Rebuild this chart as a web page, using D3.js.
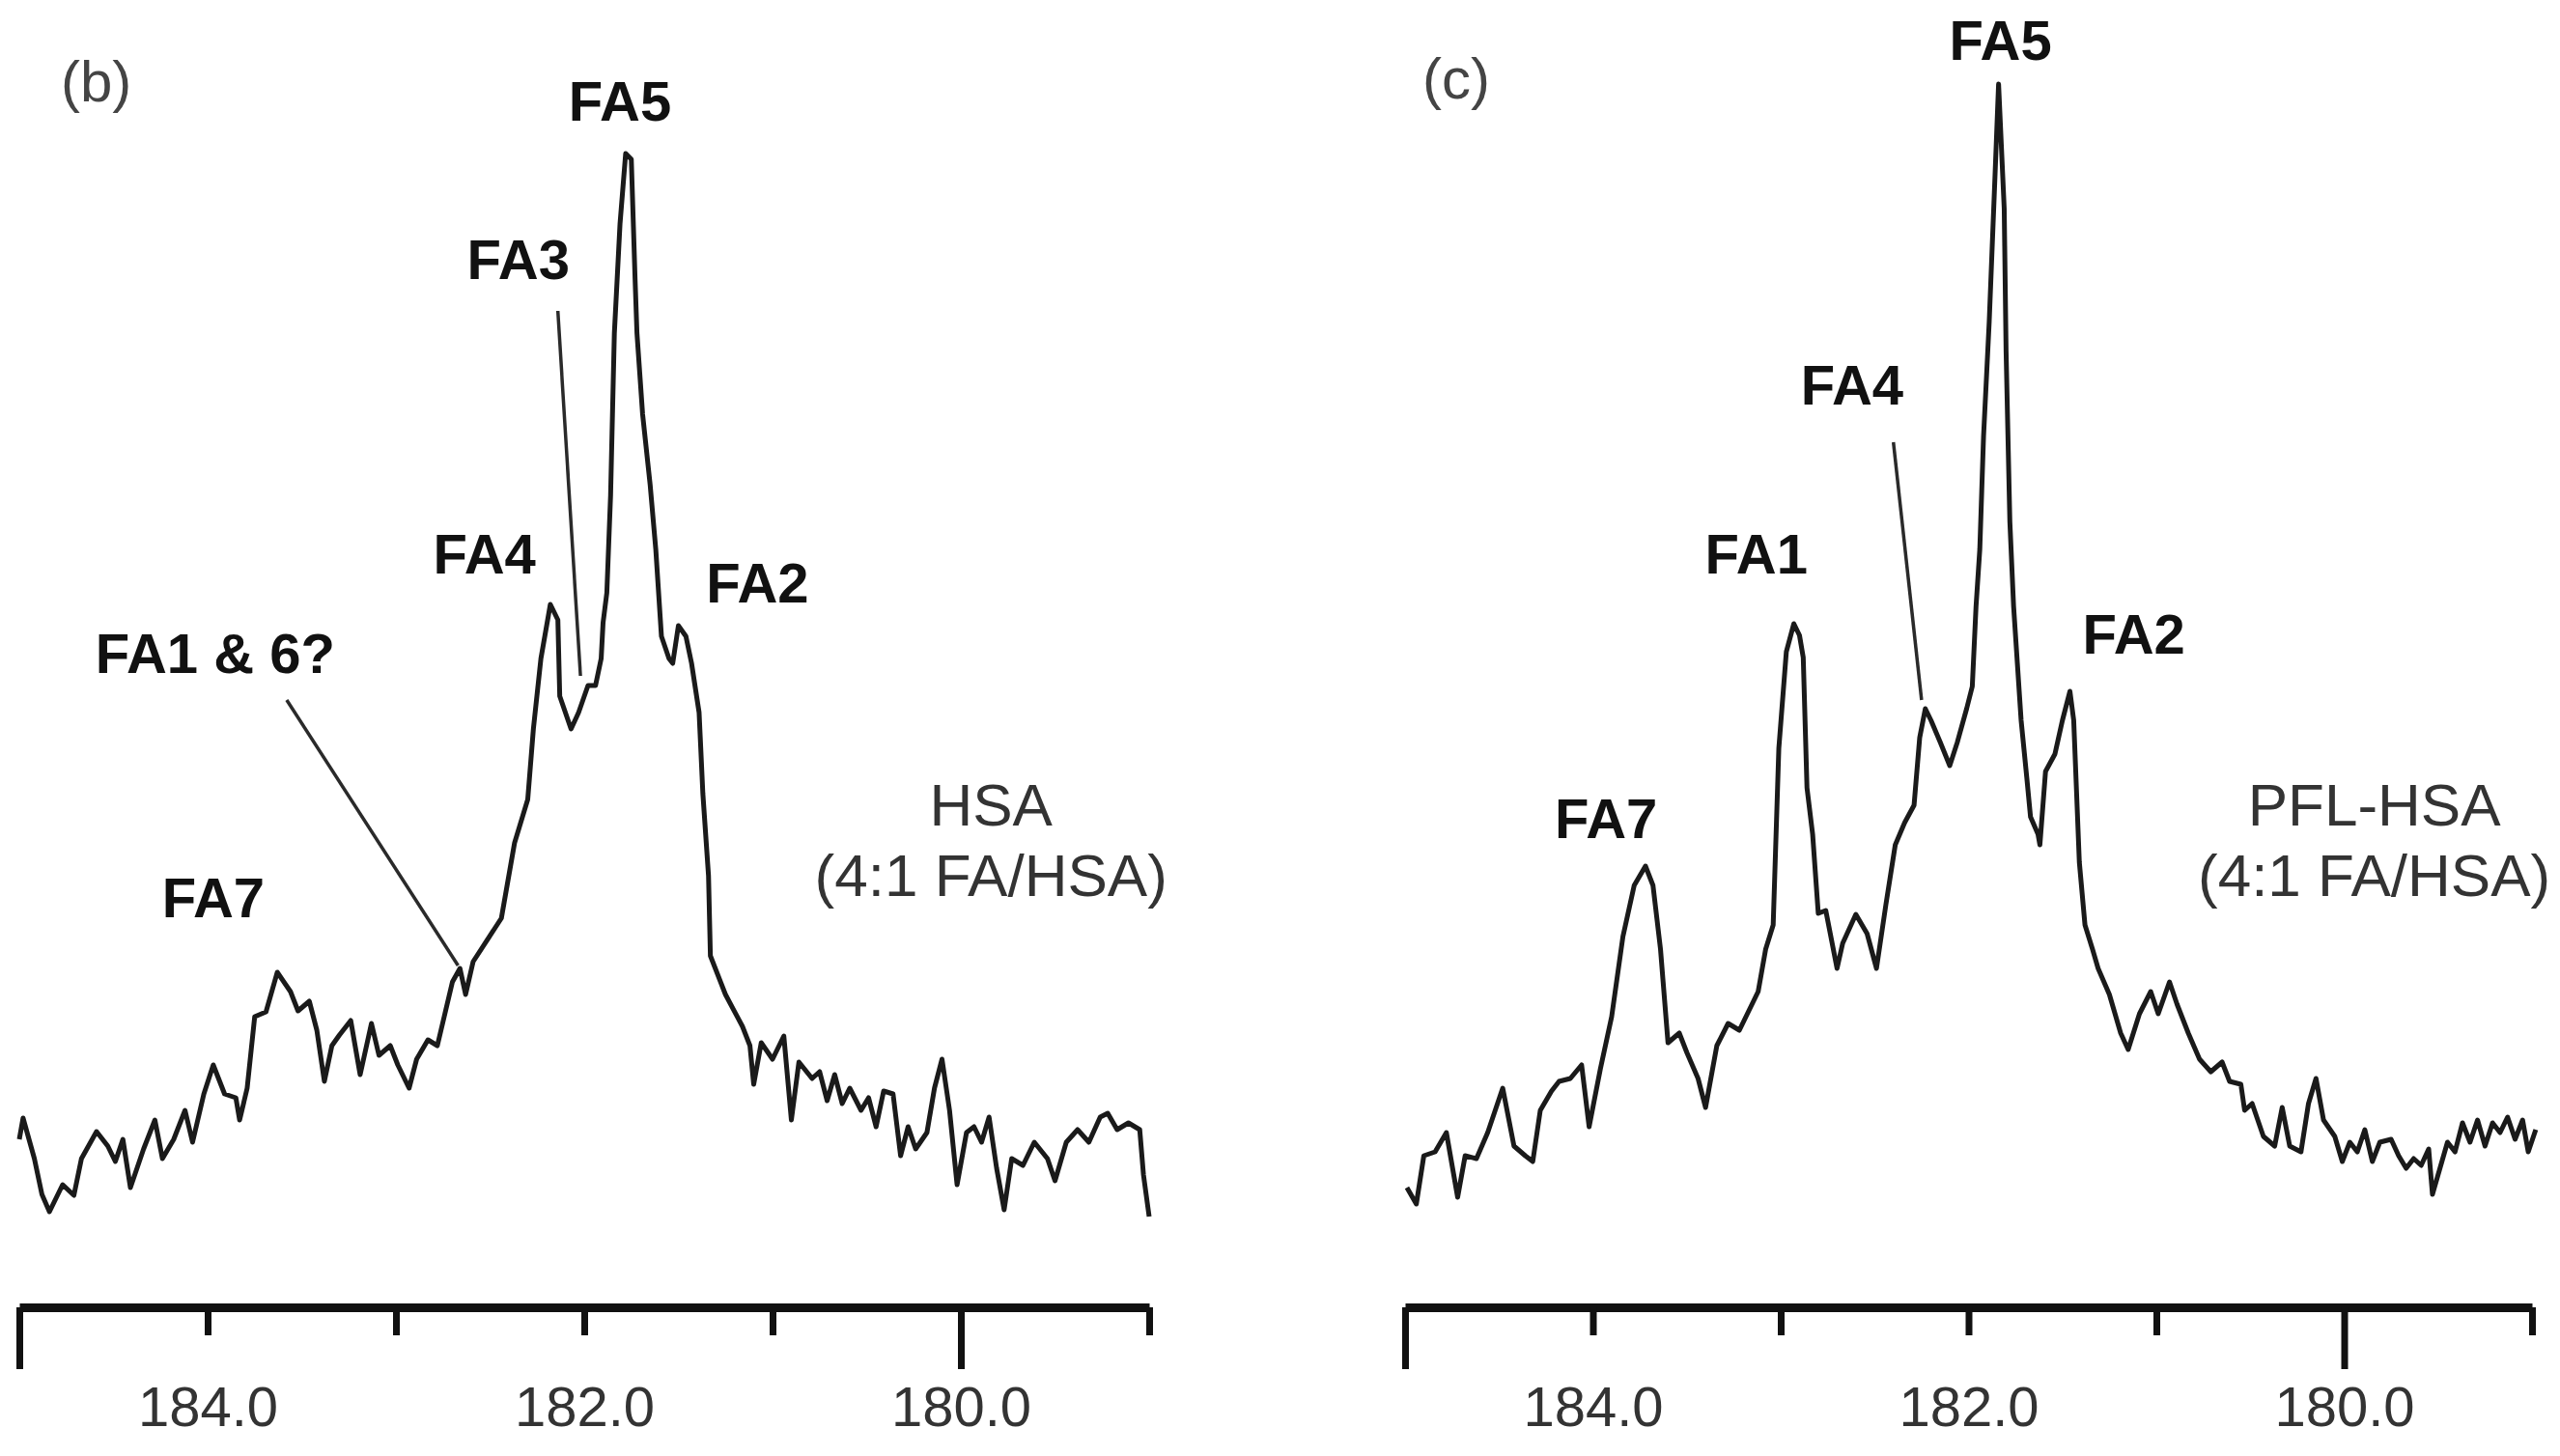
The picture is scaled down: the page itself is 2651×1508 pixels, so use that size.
<!DOCTYPE html>
<html>
<head>
<meta charset="utf-8">
<script src="https://cdn.jsdelivr.net/npm/d3@7"></script>
<style>
    html, body { margin: 0; padding: 0; background: #fff; }
    svg { display: block; font-family: "Liberation Sans", Arial, Helvetica, sans-serif; }
</style>
</head>
<body>
<svg id="chart" width="2651" height="1508"></svg>
<script>
// carbonyl region of the 13C spectra: [ppm, intensity (arb.)]
const hsaSpectrum = [
    [185.00, 17.4], [184.98, 19.6], [184.92, 15.4], [184.88, 11.7], [184.84, 9.9], [184.77, 12.7],
    [184.71, 11.6], [184.67, 15.4], [184.59, 18.2], [184.53, 16.7], [184.49, 15.1], [184.45, 17.4],
    [184.41, 12.4], [184.34, 16.4], [184.28, 19.4], [184.24, 15.4], [184.18, 17.4], [184.12, 20.4],
    [184.08, 17.1], [184.02, 22.1], [183.97, 25.1], [183.91, 22.1], [183.85, 21.7], [183.83, 19.4],
    [183.79, 22.7], [183.75, 30.1], [183.69, 30.6], [183.63, 34.7], [183.56, 32.7], [183.52, 30.7],
    [183.46, 31.7], [183.42, 28.7], [183.38, 23.4], [183.34, 27.1], [183.30, 28.2], [183.24, 29.7],
    [183.19, 24.1], [183.13, 29.4], [183.09, 26.1], [183.03, 27.1], [182.99, 25.1], [182.93, 22.7],
    [182.89, 25.7], [182.83, 27.7], [182.78, 27.1], [182.74, 30.4], [182.70, 33.7], [182.66, 35.1],
    [182.63, 32.4], [182.59, 35.8], [182.44, 40.3], [182.37, 48.1], [182.30, 52.6], [182.27, 59.9],
    [182.23, 67.2], [182.18, 72.8], [182.14, 71.2], [182.13, 63.3], [182.07, 59.9], [182.03, 61.6],
    [181.98, 64.4], [181.94, 64.4], [181.91, 67.2], [181.90, 70.9], [181.88, 74.0], [181.86, 84.1],
    [181.84, 100.9], [181.81, 112.2], [181.78, 119.5], [181.75, 118.9], [181.73, 106.5], [181.72, 100.9],
    [181.69, 92.5], [181.65, 85.2], [181.62, 78.5], [181.59, 69.5], [181.55, 67.2], [181.53, 66.7],
    [181.50, 70.6], [181.46, 69.5], [181.43, 66.7], [181.39, 61.6], [181.37, 53.2], [181.34, 44.7],
    [181.33, 36.4], [181.25, 32.4], [181.16, 29.1], [181.12, 27.1], [181.10, 23.1], [181.06, 27.4],
    [181.00, 25.7], [180.94, 28.1], [180.90, 19.4], [180.86, 25.4], [180.79, 23.7], [180.75, 24.4],
    [180.71, 21.4], [180.67, 24.1], [180.63, 21.1], [180.59, 22.7], [180.53, 20.4], [180.49, 21.7],
    [180.45, 18.7], [180.41, 22.4], [180.36, 22.1], [180.32, 15.7], [180.28, 18.7], [180.24, 16.4],
    [180.18, 18.1], [180.14, 22.7], [180.10, 25.7], [180.06, 20.4], [180.02, 12.7], [179.97, 18.1],
    [179.93, 18.7], [179.89, 17.1], [179.85, 19.7], [179.81, 14.4], [179.77, 10.1], [179.73, 15.4],
    [179.67, 14.7], [179.61, 17.1], [179.54, 15.4], [179.50, 13.1], [179.44, 17.1], [179.38, 18.4],
    [179.32, 17.1], [179.26, 19.7], [179.22, 20.1], [179.17, 18.4], [179.11, 19.1], [179.05, 18.4],
    [179.03, 13.7], [179.00, 9.4]
];

const pflSpectrum = [
    [184.99, 12.4], [184.94, 10.7], [184.90, 15.7], [184.84, 16.1], [184.78, 18.1], [184.72, 11.4],
    [184.68, 15.7], [184.62, 15.4], [184.56, 18.1], [184.48, 22.7], [184.42, 16.7], [184.36, 15.7],
    [184.32, 15.1], [184.28, 20.4], [184.22, 22.4], [184.18, 23.4], [184.12, 23.7], [184.06, 25.1],
    [184.02, 18.7], [183.96, 24.7], [183.90, 30.1], [183.84, 38.4], [183.78, 43.7], [183.72, 45.7],
    [183.68, 43.7], [183.64, 37.1], [183.60, 27.4], [183.54, 28.4], [183.50, 26.4], [183.44, 23.7],
    [183.40, 20.7], [183.34, 27.1], [183.28, 29.4], [183.22, 28.7], [183.16, 31.1], [183.12, 32.7],
    [183.08, 37.1], [183.04, 39.6], [183.01, 57.9], [182.97, 67.9], [182.93, 70.8], [182.90, 69.6],
    [182.88, 67.3], [182.86, 53.8], [182.83, 49.0], [182.80, 40.8], [182.76, 41.1], [182.70, 35.1],
    [182.67, 37.7], [182.60, 40.7], [182.54, 38.7], [182.49, 35.1], [182.44, 41.7], [182.39, 47.9],
    [182.34, 50.2], [182.29, 52.0], [182.26, 59.0], [182.23, 62.0], [182.20, 60.8], [182.15, 58.5],
    [182.10, 56.1], [182.06, 58.5], [182.01, 62.0], [181.98, 64.3], [181.96, 72.6], [181.94, 78.5],
    [181.92, 90.2], [181.89, 102.0], [181.86, 116.7], [181.84, 126.7], [181.81, 113.8], [181.80, 99.0],
    [181.78, 81.4], [181.76, 72.6], [181.74, 66.7], [181.72, 60.8], [181.69, 54.9], [181.67, 50.8],
    [181.63, 49.0], [181.62, 47.9], [181.59, 55.5], [181.54, 57.3], [181.50, 60.8], [181.46, 63.8],
    [181.44, 60.8], [181.41, 46.1], [181.38, 39.6], [181.34, 37.1], [181.31, 35.1], [181.25, 32.4],
    [181.19, 28.4], [181.15, 26.7], [181.09, 30.4], [181.03, 32.7], [180.99, 30.4], [180.93, 33.7],
    [180.89, 31.4], [180.83, 28.4], [180.77, 25.7], [180.71, 24.4], [180.65, 25.4], [180.61, 23.4],
    [180.55, 23.1], [180.53, 20.4], [180.49, 21.1], [180.43, 17.7], [180.37, 16.7], [180.33, 20.7],
    [180.29, 16.7], [180.23, 16.1], [180.19, 21.1], [180.15, 23.7], [180.11, 19.4], [180.05, 17.7],
    [180.01, 15.1], [179.97, 17.1], [179.93, 16.1], [179.89, 18.4], [179.85, 15.1], [179.81, 17.1],
    [179.75, 17.4], [179.71, 15.7], [179.67, 14.4], [179.63, 15.4], [179.59, 14.7], [179.55, 16.4],
    [179.53, 11.7], [179.49, 14.4], [179.45, 17.1], [179.41, 16.1], [179.37, 19.1], [179.33, 17.1],
    [179.29, 19.4], [179.25, 16.7], [179.21, 19.1], [179.17, 18.1], [179.13, 19.7], [179.09, 17.4],
    [179.05, 19.4], [179.02, 16.1], [178.98, 18.4]
];

// peak assignments: [label, ppm, intensity of the label baseline]
const hsaPeakLabels = [
    ['FA5', 181.81, 122.9], ['FA3', 182.35, 106.5], ['FA4', 182.53, 76.0],
    ['FA2', 181.08, 73.0], ['FA1 & 6?', 183.96, 65.7], ['FA7', 183.97, 40.4]
];
const pflPeakLabels = [
    ['FA5', 181.83, 129.2], ['FA4', 182.62, 93.5], ['FA1', 183.13, 76.0],
    ['FA2', 181.12, 67.7], ['FA7', 183.93, 48.6]
];
// leader lines: [ppm1, intensity1, ppm2, intensity2]
const hsaLeaders = [[182.14, 103.2, 182.02, 65.4], [183.58, 62.9, 182.67, 35.4]];
const pflLeaders = [[182.40, 89.6, 182.25, 62.9]];

const sampleNames = [['HSA', '(4:1 FA/HSA)'], ['PFL-HSA', '(4:1 FA/HSA)']];
const panelLetters = ['(b)', '(c)'];

const ppmDomain = [185, 179];
const axisTicks = [185, 184, 183, 182, 181, 180, 179];
const majorTicks = [185, 180];
const labeledTicks = [184, 182, 180];

var svg = d3.select('#chart');
var axisY = 1354;
var yScale = d3.scaleLinear().domain([0, 135.4]).range([axisY, 0]);

function drawPanel(x0, x1, letterX, letterY, spectrum, peakLabels, leaders, names, letter) {
    var g = svg.append('g');
    var xScale = d3.scaleLinear().domain(ppmDomain).range([x0, x1]);

    // ppm axis: tall ticks at 185/180, labels every 2 ppm
    var axis = g.append('g')
        .attr('transform', 'translate(0,' + axisY + ')')
        .call(d3.axisBottom(xScale)
            .tickValues(axisTicks)
            .tickSizeOuter(0)
            .tickFormat(function(d) { return labeledTicks.indexOf(d) >= 0 ? d3.format('.1f')(d) : ''; }));
    axis.select('.domain')
        .attr('stroke', '#111')
        .attr('stroke-width', 9);
    axis.selectAll('.tick line')
        .attr('stroke', '#111')
        .attr('stroke-width', 7)
        .attr('y2', function(d) { return majorTicks.indexOf(d) >= 0 ? 64 : 29; });
    axis.selectAll('.tick text')
        .attr('y', 123)
        .attr('dy', 0)
        .attr('fill', '#333')
        .style('font-size', '58px');

    var line = d3.line()
        .x(function(d) { return xScale(d[0]); })
        .y(function(d) { return yScale(d[1]); });

    g.append('path')
        .datum(spectrum)
        .attr('d', line)
        .attr('fill', 'none')
        .attr('stroke', '#1a1a1a')
        .attr('stroke-width', 5)
        .attr('stroke-linejoin', 'round');

    g.selectAll('.leader')
        .data(leaders)
        .enter()
        .append('line')
        .attr('x1', function(d) { return xScale(d[0]); })
        .attr('y1', function(d) { return yScale(d[1]); })
        .attr('x2', function(d) { return xScale(d[2]); })
        .attr('y2', function(d) { return yScale(d[3]); })
        .attr('stroke', '#2a2a2a')
        .attr('stroke-width', 3.5);

    g.selectAll('.peak')
        .data(peakLabels)
        .enter()
        .append('text')
        .attr('x', function(d) { return xScale(d[1]); })
        .attr('y', function(d) { return yScale(d[2]); })
        .attr('text-anchor', 'middle')
        .attr('fill', '#111')
        .style('font-size', '58px')
        .style('font-weight', 'bold')
        .text(function(d) { return d[0]; });

    // sample name, centred above the ratio line
    g.selectAll('.sample')
        .data(names)
        .enter()
        .append('text')
        .attr('x', xScale(179.84))
        .attr('y', function(d, i) { return i === 0 ? yScale(49.9) : yScale(42.6); })
        .attr('text-anchor', 'middle')
        .attr('fill', '#333')
        .style('font-size', '62px')
        .text(function(d) { return d; });

    g.append('text')
        .attr('x', letterX)
        .attr('y', letterY)
        .attr('fill', '#444')
        .style('font-size', '60px')
        .text(letter);
}

drawPanel(20, 1190, 63, 105, hsaSpectrum, hsaPeakLabels, hsaLeaders, sampleNames[0], panelLetters[0]);
drawPanel(1455, 2622, 1473, 102, pflSpectrum, pflPeakLabels, pflLeaders, sampleNames[1], panelLetters[1]);
</script>
</body>
</html>
